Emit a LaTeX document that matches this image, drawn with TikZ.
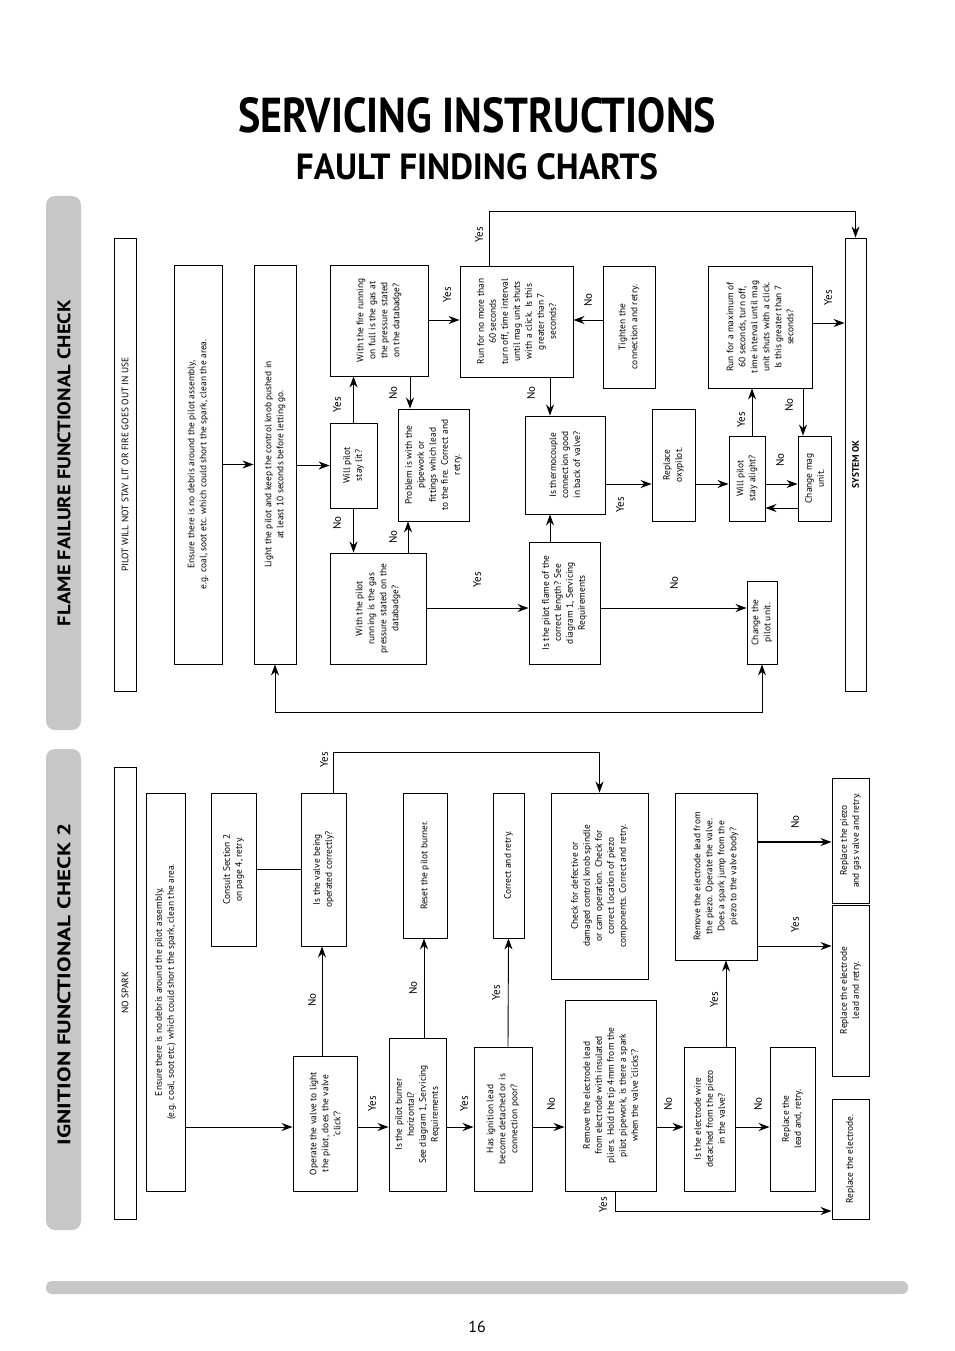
\documentclass[tikz,border=0pt]{standalone}
\usepackage{fontspec}
\setmainfont{PT Sans}
\usetikzlibrary{arrows.meta}
\tikzset{
  box/.style={draw, line width=0.9pt, rotate=90, align=center, inner sep=1pt,
    font=\fontsize{9.4}{12}\selectfont},
  hdr/.style={box, font=\fontsize{9.4}{10}\selectfont},
  lbl/.style={rotate=90, inner sep=1pt, font=\fontsize{11}{12}\selectfont},
  arr/.style={line width=0.9pt, -{Stealth[length=11pt,width=8pt]}},
  arrb/.style={line width=0.9pt, {Stealth[length=11pt,width=8pt]}-{Stealth[length=11pt,width=8pt]}},
  ln/.style={line width=0.9pt},
  tab/.style={fill=black!22, rounded corners=9pt}
}
\newcommand{\bx}[6]{\node[#1, minimum width=#6pt, minimum height=#5pt] (#2) at (#3,-#4)}
\begin{document}
\begin{tikzpicture}[x=1pt,y=1pt]
\useasboundingbox (0,0) rectangle (954,-1351);

% titles
\node (title) at (477,-115) {\resizebox{478pt}{35pt}{\bfseries SERVICING INSTRUCTIONS}};
\node (subtitle) at (477,-167) {\resizebox{362pt}{26pt}{\bfseries FAULT FINDING CHARTS}};

% side tabs and bottom bar
\fill[tab] (46,-196) rectangle (81,-730);
\fill[tab] (46,-749) rectangle (81,-1230);
\node[rotate=90] (tabA) at (64,-463) {\resizebox{326pt}{13pt}{\bfseries FLAME FAILURE FUNCTIONAL CHECK}};
\node[rotate=90] (tabB) at (64,-984) {\resizebox{322pt}{13pt}{\bfseries IGNITION FUNCTIONAL CHECK 2}};
\fill[black!22, rounded corners=6pt] (46,-1281) rectangle (908,-1294);
\node[font=\fontsize{16}{18}\selectfont] (page) at (477,-1327) {16};

%%%% Flame failure chart
\bx{hdr}{hdrA}{125}{464.5}{22}{453} {PILOT WILL NOT STAY LIT OR FIRE GOES OUT IN USE};
\bx{box}{ensure}{198}{464.5}{48}{399} {Ensure there is no debris around the pilot assembly,\\ e.g. coal, soot etc. which could short the spark, clean the area.};
\bx{box}{light}{275}{464.5}{42}{399} {Light the pilot and keep the control knob pushed in\\ at least 10 seconds before letting go.};
\bx{box}{willlit}{353.5}{465.5}{47}{85} {Will pilot\\ stay lit?};
\bx{box}{withfire}{379}{320.5}{98}{111} {With the fire running\\ on full is the gas at\\ the pressure stated\\ on the databadge?};
\bx{box}{withpilot}{378}{608.5}{96}{111} {With the pilot\\ running is the gas\\ pressure stated on the\\ databadge?};
\bx{box}{problem}{433.5}{465}{71}{112} {Problem is with the\\ pipework or\\ fittings which lead\\ to the fire. Correct and\\ retry.};
\bx{box}{runfor}{516.5}{321.5}{113}{111} {Run for no more than\\ 60 seconds\\ turn off, time interval\\ until mag unit shuts\\ with a click. Is this\\ greater than 7\\ seconds?};
\bx{box}{tighten}{629}{327}{52}{122} {Tighten the\\ connection and retry.};
\bx{box}{thermo}{565}{465}{80}{98} {Is thermocouple\\ connection good\\ in back of valve?};
\bx{box}{pilotflame}{564.5}{603}{71}{122} {Is the pilot flame of the\\ correct length? See\\ diagram 1, Servicing\\ Requirements};
\bx{box}{oxypilot}{673.5}{465}{43}{112} {Replace\\ oxypilot.};
\bx{box}{willalight}{747}{478.5}{36}{85} {Will pilot\\ stay alight?};
\bx{box}{changemag}{814.5}{478.5}{33}{85} {Change mag\\ unit.};
\bx{box}{runmax}{760}{327}{104}{122} {Run for a maximum of\\ 60 seconds, turn off,\\ time interval until mag\\ unit shuts with a click.\\ Is this greater than 7\\ seconds?};
\bx{box}{changepilot}{762}{622.5}{30}{83} {Change the\\ pilot unit.};
\bx{hdr}{sysok}{855.5}{464.5}{21}{453} {\bfseries SYSTEM OK};

% connectors
\draw[arr] (ensure.south) -- (light.north);
\draw[arr] (light.south |- willlit.north) -- (willlit.north);
\draw[arr] (willlit.east) -- (willlit.east |- withfire.west);
\draw[arr] (willlit.west) -- (willlit.west |- withpilot.east);
\draw[arr] (410,0 |- withfire.west) -- (410,0 |- problem.east);
\draw[arr] (408,0 |- withpilot.east) -- (408,0 |- problem.west);
\draw[arr] (withfire.south |- 0,-320) -- (runfor.north |- 0,-320);
\draw[arr] (withpilot.south |- 0,-608) -- (pilotflame.north |- 0,-608);
\draw[arr] (pilotflame.south |- 0,-608) -- (changepilot.north |- 0,-608);
\draw[arr] (550,0 |- pilotflame.east) -- (550,0 |- thermo.west);
\draw[arr] (550,0 |- runfor.west) -- (550,0 |- thermo.east);
\draw[arr] (489,0 |- runfor.east) -- (489,-211) -| (sysok.east);
\draw[arr] (tighten.north |- 0,-320) -- (runfor.south |- 0,-320);
\draw[arr] (thermo.south |- 0,-484) -- (oxypilot.north |- 0,-484);
\draw[arr] (oxypilot.south |- 0,-484) -- (willalight.north |- 0,-484);
\draw[arr] (willalight.south |- 0,-484) -- (changemag.north |- 0,-484);
\draw[arr] (changemag.north |- 0,-508) -- (willalight.south |- 0,-508);
\draw[arr] (752,0 |- willalight.east) -- (752,0 |- runmax.west);
\draw[arr] (803,0 |- runmax.west) -- (803,0 |- changemag.east);
\draw[arr] (runmax.south |- 0,-323) -- (sysok.north |- 0,-323);
\draw[arrb] (light.west) -- (275,-712) -| (changepilot.west);

% labels
\node[lbl] (l1) at (337,-405) {Yes};
\node[lbl] (l2) at (337,-523) {No};
\node[lbl] (l3) at (393,-393) {No};
\node[lbl] (l4) at (393,-537) {No};
\node[lbl] (l5) at (447,-295) {Yes};
\node[lbl] (l6) at (477,-580) {Yes};
\node[lbl] (l7) at (674,-583) {No};
\node[lbl] (l8) at (531,-393) {No};
\node[lbl] (l9) at (479,-235) {Yes};
\node[lbl] (l10) at (588,-300) {No};
\node[lbl] (l11) at (620,-505) {Yes};
\node[lbl] (l12) at (780,-460) {No};
\node[lbl] (l13) at (741,-420) {Yes};
\node[lbl] (l14) at (789,-405) {No};
\node[lbl] (l15) at (828,-298) {Yes};

%%%% Ignition chart
\bx{hdr}{hdrB}{125}{993}{22}{452} {NO SPARK};
\bx{box}{ensureB}{165.5}{992}{39}{398} {Ensure there is no debris around the pilot assembly,\\ (e.g. coal, soot etc.) which could short the spark, clean the area.};
\bx{box}{consult}{233.5}{869.5}{45}{153} {Consult Section 2\\ on page 4, retry.};
\bx{box}{operate}{325}{1123.5}{64}{135} {Operate the valve to light\\ the pilot, does the valve\\ `click'?};
\bx{box}{isvalve}{323.5}{869.5}{45}{153} {Is the valve being\\ operated correctly?};
\bx{box}{burner}{417.5}{1114.5}{57}{153} {Is the pilot burner\\ horizontal?\\ See diagram 1, Servicing\\ Requirements};
\bx{box}{reset}{425}{865.5}{44}{145} {Reset the pilot burner.};
\bx{box}{hasign}{503}{1119}{58}{144} {Has ignition lead\\ become detached or is\\ connection poor?};
\bx{box}{correct}{508.5}{865.5}{31}{145} {Correct and retry.};
\bx{box}{check}{599.5}{886}{97}{186} {Check for defective or\\ damaged control knob spindle\\ or cam operation. Check for\\ correct location of piezo\\ components. Correct and retry.};
\bx{box}{removeel}{610.5}{1095.5}{91}{191} {Remove the electrode lead\\ from electrode with insulated\\ pliers. Hold the tip 4mm from the\\ pilot pipework, is there a spark\\ when the valve `clicks'?};
\bx{box}{iswire}{709.5}{1119}{51}{144} {Is the electrode wire\\ detached from the piezo\\ in the valve?};
\bx{box}{replead}{792.5}{1119}{45}{144} {Replace the\\ lead and, retry.};
\bx{box}{removepz}{716}{876.5}{82}{167} {Remove the electrode lead from\\ the piezo. Operate the valve.\\ Does a spark jump from the\\ piezo to the valve body?};
\bx{box}{reppiezo}{850.5}{840.5}{37}{125} {Replace the piezo\\ and gas valve and retry.};
\bx{box}{repellead}{850.5}{990.5}{37}{171} {Replace the electrode\\ lead and retry.};
\bx{box}{repel}{850.5}{1159}{37}{120} {Replace the electrode.};

% connectors
\draw[arr] (ensureB.south |- 0,-1127) -- (operate.north |- 0,-1127);
\draw[arr] (operate.south |- 0,-1127) -- (burner.north |- 0,-1127);
\draw[arr] (burner.south |- 0,-1127) -- (hasign.north |- 0,-1127);
\draw[arr] (hasign.south |- 0,-1127) -- (removeel.north |- 0,-1127);
\draw[arr] (removeel.south |- 0,-1127) -- (iswire.north |- 0,-1127);
\draw[arr] (iswire.south |- 0,-1127) -- (replead.north |- 0,-1127);
\draw[arr] (322,0 |- operate.east) -- (322,0 |- isvalve.west);
\draw[ln] (isvalve.north) -- (consult.south);
\draw[arr] (333,0 |- isvalve.east) -- (333,-752) -| (check.east);
\draw[arr] (424,0 |- burner.east) -- (424,0 |- reset.west);
\draw[arr] (508,0 |- hasign.east) -- (correct.west);
\draw[arr] (726,0 |- iswire.east) -- (726,0 |- removepz.west);
\draw[arr, line width=1.6pt] (removepz.south |- 0,-842) -- (reppiezo.north |- 0,-842);
\draw[arr] (removepz.south |- 0,-946) -- (repellead.north |- 0,-946);
\draw[arr] (615,0 |- removeel.west) -- (615,-1211) -- (repel.north |- 0,-1211);

% labels
\node[lbl] (m1) at (372,-1104) {Yes};
\node[lbl] (m2) at (464,-1104) {Yes};
\node[lbl] (m3) at (551,-1104) {No};
\node[lbl] (m4) at (668,-1104) {No};
\node[lbl] (m5) at (758,-1104) {No};
\node[lbl] (m6) at (312,-1000) {No};
\node[lbl] (m7) at (324,-760) {Yes};
\node[lbl] (m8) at (413,-988) {No};
\node[lbl] (m9) at (496,-993) {Yes};
\node[lbl] (m10) at (714,-1000) {Yes};
\node[lbl] (m11) at (795,-822) {No};
\node[lbl] (m12) at (795,-925) {Yes};
\node[lbl] (m13) at (603,-1205) {Yes};
\end{tikzpicture}
\end{document}
